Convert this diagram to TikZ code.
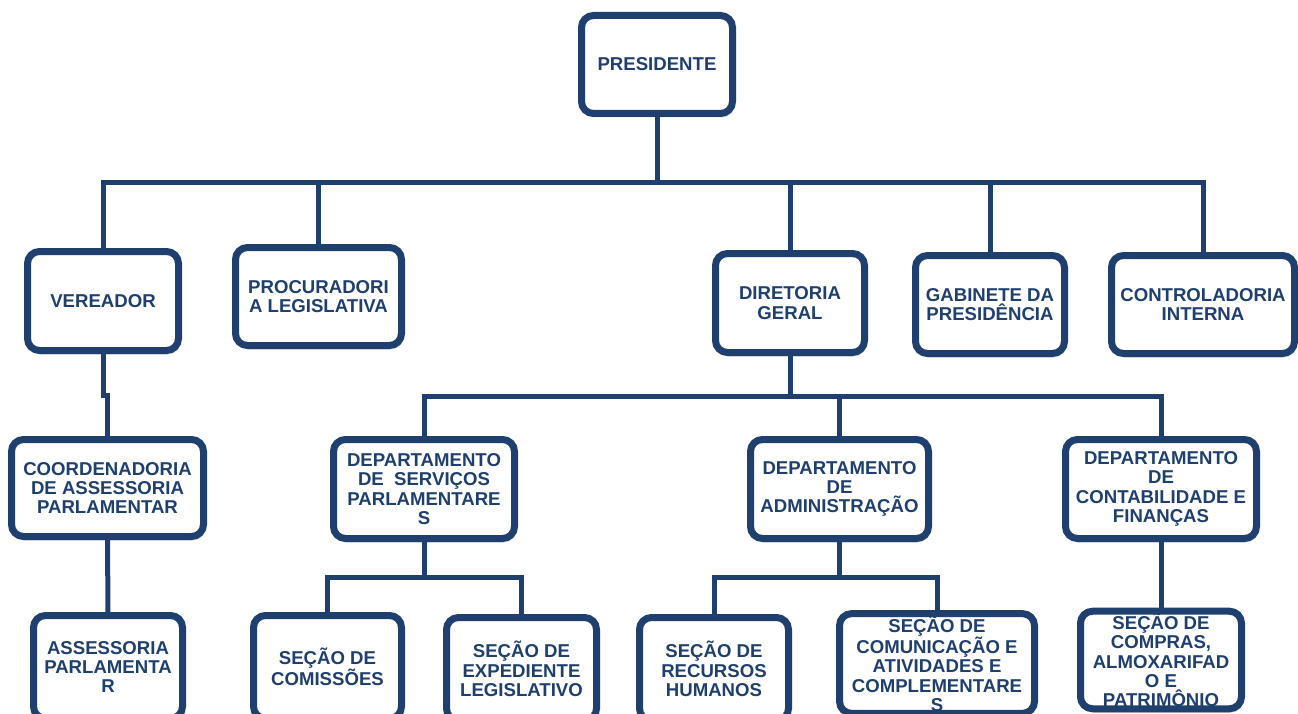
\documentclass[tikz,border=0pt]{standalone}
\usepackage{fontspec}
\setmainfont{Liberation Sans}
\usetikzlibrary{positioning,shadows}
\definecolor{azul}{RGB}{31,64,110}
\tikzset{caixa/.style={draw=azul,line width=7pt,rounded corners=12pt,fill=white,text=azul,align=center,inner sep=2pt,
  font=\fontsize{18.6}{19.2}\selectfont\bfseries,drop shadow={shadow xshift=1.5pt,shadow yshift=-4pt,opacity=.25}},
  linha/.style={draw=azul,line width=5pt}}
\begin{document}
\begin{tikzpicture}[x=1pt,y=-1pt]%organograma
\useasboundingbox (0,0) rectangle (1298,714); \clip (0,0) rectangle (1298,714);
%presidente
\node[caixa,minimum width=151,minimum height=98] (pres) at (657,64.5) {PRESIDENTE};
%segundo nivel
\node[caixa,minimum width=151,minimum height=99] (ver) at (103,301) {VEREADOR};
\node[caixa,minimum width=166,minimum height=98] (proc) at (318.5,296.5) {PROCURADORI\\A LEGISLATIVA};
\node[caixa,minimum width=149,minimum height=99] (dir) at (790,303) {DIRETORIA\\GERAL};
\node[caixa,minimum width=149,minimum height=98] (gab) at (990,304.5) {GABINETE DA\\PRESIDÊNCIA};
\node[caixa,minimum width=183,minimum height=98] (contr) at (1203,304.5) {CONTROLADORIA\\INTERNA};
%departamentos
\node[caixa,minimum width=192,minimum height=97] (coord) at (107.5,488) {COORDENADORIA\\DE ASSESSORIA\\PARLAMENTAR};
\node[caixa,minimum width=181,minimum height=99] (dserv) at (424,489) {DEPARTAMENTO\\DE\ \ SERVIÇOS\\PARLAMENTARE\\S};
\node[caixa,minimum width=178,minimum height=99] (dadm) at (839.5,489) {DEPARTAMENTO\\DE\\ADMINISTRAÇÃO};
\node[caixa,minimum width=191,minimum height=99] (dcont) at (1161,489) {DEPARTAMENTO\\DE\\CONTABILIDADE E\\FINANÇAS};
%secoes (cortadas embaixo)
\node[caixa,minimum width=149,minimum height=103] (assess) at (108,667) {ASSESSORIA\\PARLAMENTA\\R};
\node[caixa,minimum width=148,minimum height=103] (scom) at (327.5,667) {SEÇÃO DE\\COMISSÕES};
\node[caixa,minimum width=150,minimum height=103] (sexp) at (521.5,669) {SEÇÃO DE\\EXPEDIENTE\\LEGISLATIVO};
\node[caixa,minimum width=149,minimum height=103] (srh) at (714,669) {SEÇÃO DE\\RECURSOS\\HUMANOS};
\node[caixa,minimum width=195,minimum height=96] (scomu) at (937,663.5) {SEÇÃO DE\\COMUNICAÇÃO E\\ATIVIDADES E\\COMPLEMENTARE\\S};
\node[caixa,minimum width=161,minimum height=96] (scomp) at (1161,660) {SEÇÃO DE\\COMPRAS,\\ALMOXARIFAD\\O E\\PATRIMÔNIO};
%ligacoes do presidente
\coordinate (b1) at (657,183);
\draw[linha] (pres.south) -- (b1);
\draw[linha] (b1) -| (ver.north); \draw[linha] (b1) -| (proc.north); \draw[linha] (b1) -| (dir.north);
\draw[linha] (b1) -| (gab.north); \draw[linha] (b1) -| (contr.north);
%vereador
\draw[linha] (ver.south) -- ++(0,41) -| (coord.north); \draw[linha] (coord.south) -- (assess.north);
%diretoria geral
\coordinate (b2) at (790,396);
\draw[linha] (dir.south) -- (b2);
\draw[linha] (b2) -| (dserv.north); \draw[linha] (b2) -| (dadm.north); \draw[linha] (b2) -| (dcont.north);
%secoes
\coordinate (b3) at (424,577); \coordinate (b4) at (839.5,577);
\draw[linha] (dserv.south) -- (b3); \draw[linha] (b3) -| (scom.north); \draw[linha] (b3) -| (sexp.north);
\draw[linha] (dadm.south) -- (b4); \draw[linha] (b4) -| (srh.north); \draw[linha] (b4) -| (scomu.north);
\draw[linha] (dcont.south) -- (scomp.north);
\end{tikzpicture}
\end{document}
